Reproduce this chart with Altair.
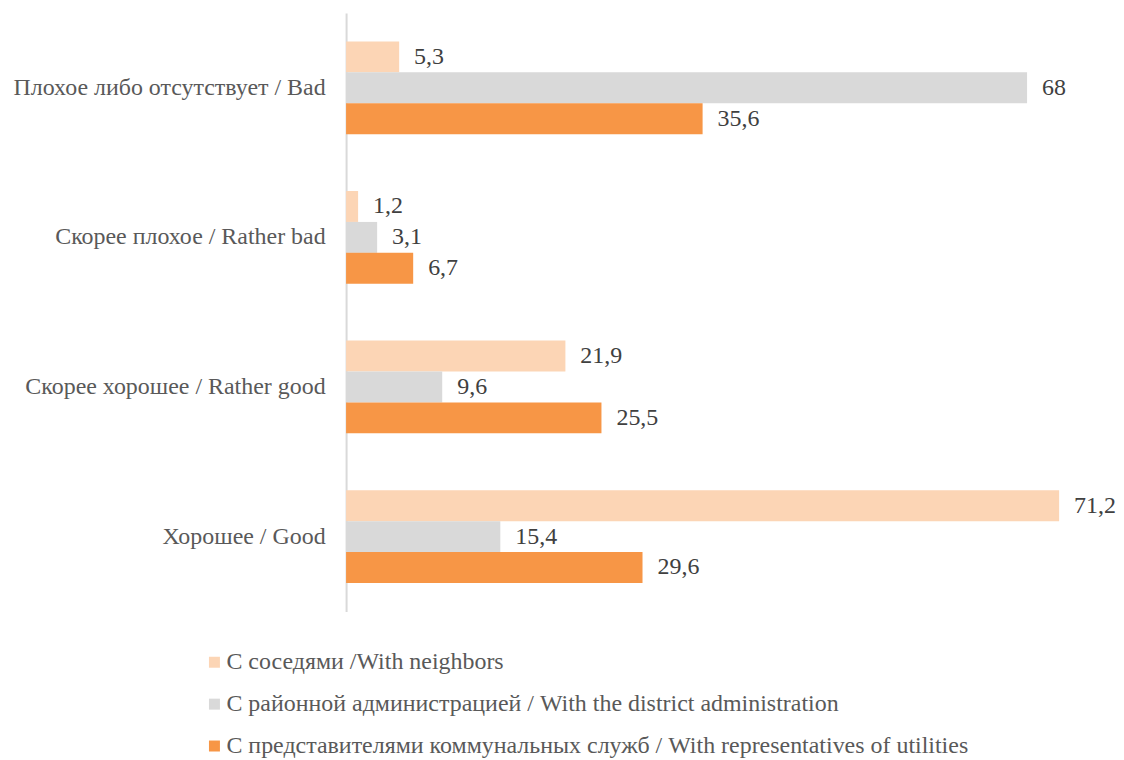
import altair as alt
import pandas as pd

categories = [
    "Плохое либо отсутствует / Bad",
    "Скорее плохое / Rather bad",
    "Скорее хорошее / Rather good",
    "Хорошее / Good",
]
series = [
    "С соседями /With neighbors",
    "С районной администрацией / With the district administration",
    "С представителями коммунальных служб / With representatives of utilities",
]
neighbors = [5.3, 1.2, 21.9, 71.2]
administration = [68, 3.1, 9.6, 15.4]
utilities = [35.6, 6.7, 25.5, 29.6]
colors = ["#FCD5B5", "#D9D9D9", "#F79646"]

rows = []
for s, vals in zip(series, [neighbors, administration, utilities]):
    for c, v in zip(categories, vals):
        lbl = (f"{v:g}").replace(".", ",")
        rows.append({"category": c, "series": s, "value": v, "label": lbl})
df = pd.DataFrame(rows)

FONT = "Liberation Serif"
FS = 24

y_enc = alt.Y(
    "category:N",
    sort=categories,
    scale=alt.Scale(paddingInner=0.38, paddingOuter=0.19),
    axis=alt.Axis(
        title=None,
        ticks=False,
        grid=False,
        domainColor="#D9D9D9",
        domainWidth=2,
        labelFont=FONT,
        labelFontSize=FS,
        labelColor="#595959",
        labelPadding=21,
        labelLimit=400,
        minExtent=339,
        maxExtent=339,
    ),
)
x_enc = alt.X(
    "value:Q",
    scale=alt.Scale(domain=[0, 72], nice=False),
    axis=None,
)
yoff = alt.YOffset("series:N", sort=series, scale=alt.Scale(paddingInner=0, paddingOuter=0))

base = alt.Chart(df)

bars = base.mark_bar(size=31).encode(
    y=y_enc,
    x=x_enc,
    yOffset=yoff,
    color=alt.Color(
        "series:N",
        sort=series,
        scale=alt.Scale(domain=series, range=colors),
        legend=alt.Legend(
            title=None,
            orient="none",
            legendX=-144,
            legendY=639,
            direction="vertical",
            symbolType="square",
            symbolSize=121,
            symbolStrokeWidth=0,
            labelFont=FONT,
            labelFontSize=FS,
            labelColor="#595959",
            rowPadding=18,
            labelOffset=0,
            labelLimit=900,
        ),
    ),
)

text = base.mark_text(
    align="left", baseline="middle", dx=15, font=FONT, fontSize=FS, color="#404040"
).encode(
    y=alt.Y("category:N", sort=categories),
    x="value:Q",
    yOffset=yoff,
    text="label:N",
)

chart = (
    alt.layer(bars, text)
    .properties(
        width=723,
        height=600,
        padding={"left": 0, "top": 4, "right": 0, "bottom": 0},
    )
    .configure(background="white", font=FONT)
    .configure_view(stroke=None, strokeWidth=0)
)

chart.save("out.html", embed_options={"renderer": "svg", "actions": False})
